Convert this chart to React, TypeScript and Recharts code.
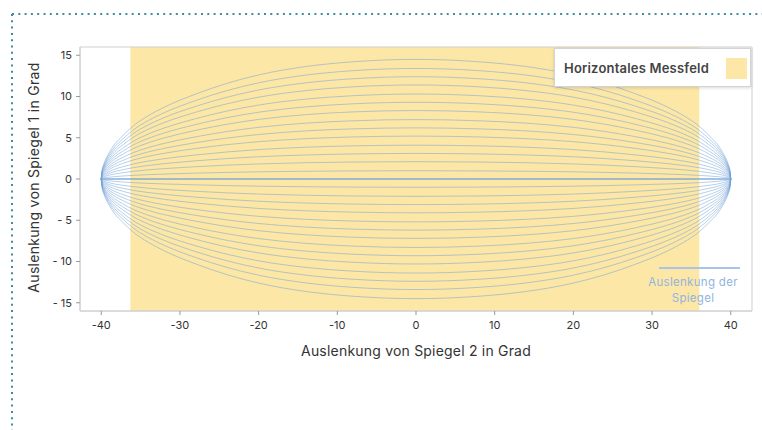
import React from 'react';
import { LineChart, Line, XAxis, YAxis, ReferenceArea } from 'recharts';

// Achsen
const X_TICKS = [-40, -30, -20, -10, 0, 10, 20, 30, 40];
const Y_TICKS = [-15, -10, -5, 0, 5, 10, 15];
const X_DOMAIN = [-42.7, 42.7];
const Y_DOMAIN = [-16, 16];

// Horizontales Messfeld (x-Bereich)
const FIELD_X = [-36.3, 36.0];

// Scheitelhöhen der Bahnen (bei x = 0)
const AMPLITUDES = [0, 1.0, 2.1, 3.1, 4.1, 5.2, 6.2, 7.2, 8.3, 9.3, 10.3, 11.4, 12.4, 13.4, 14.5];

// Form der äußersten Bahn: relative Höhe an den Stützstellen
const PROFILE_X = [-40, -39.9, -39.7, -39.4, -39, -38.3, -37.3, -36, -34, -32, -28, -24, -20, -14, -8, 0, 8, 14, 20, 24, 28, 32, 34, 36, 37.3, 38.3, 39, 39.4, 39.7, 39.9, 40];
const PROFILE_H = [0, 0.07, 0.12, 0.17, 0.22, 0.29, 0.36, 0.44, 0.53, 0.6, 0.71, 0.8, 0.87, 0.94, 0.98, 1, 0.98, 0.94, 0.87, 0.8, 0.71, 0.6, 0.53, 0.44, 0.36, 0.29, 0.22, 0.17, 0.12, 0.07, 0];

const FONT = 'Inter, "Open Sans", sans-serif';
const LINE_COLOR = '#6f9fd8';
const FIELD_COLOR = '#fce7a6';

const keys: { key: string; center: boolean }[] = [];
AMPLITUDES.forEach((a, k) => {
  keys.push({ key: `p${k}`, center: a === 0 });
  if (a > 0) keys.push({ key: `n${k}`, center: false });
});

const data = PROFILE_X.map((x, i) => {
  const row: Record<string, number> = { x };
  AMPLITUDES.forEach((a, k) => {
    row[`p${k}`] = a * PROFILE_H[i];
    if (a > 0) row[`n${k}`] = -a * PROFILE_H[i];
  });
  return row;
});

const fmtY = (v: number) => (v < 0 ? `- ${Math.abs(v)}` : `${v}`);

export default function App() {
  return (
    <div style={{ position: 'fixed', left: 0, top: 0, width: 762, height: 430, background: '#fff', overflow: 'hidden', fontFamily: FONT }}>
      <svg width={762} height={430} style={{ position: 'absolute', left: 0, top: 0 }}>
        <line x1={12} y1={14} x2={762} y2={14} stroke="#3f8c9e" strokeWidth={2} strokeDasharray="2 4.3" />
        <line x1={12} y1={14} x2={12} y2={430} stroke="#3f8c9e" strokeWidth={2} strokeDasharray="2 4.3" />
      </svg>

      <div style={{ position: 'absolute', left: 0, top: 0 }}>
        <LineChart width={762} height={430} data={data} margin={{ top: 47, right: 10, left: 40, bottom: 89 }}>
          <XAxis
            dataKey="x"
            type="number"
            domain={X_DOMAIN}
            ticks={X_TICKS}
            allowDataOverflow
            height={30}
            tick={{ fontSize: 11, fill: '#333', fontFamily: FONT }}
            tickLine={{ stroke: '#999' }}
            tickSize={4}
            tickMargin={6}
            axisLine={{ stroke: '#d0d0d0' }}
          />
          <YAxis
            type="number"
            domain={Y_DOMAIN}
            ticks={Y_TICKS}
            allowDataOverflow
            width={40}
            tickFormatter={fmtY}
            tick={{ fontSize: 11, fill: '#333', fontFamily: FONT }}
            tickLine={{ stroke: '#999' }}
            tickSize={4}
            tickMargin={4}
            axisLine={{ stroke: '#d0d0d0' }}
          />
          <ReferenceArea x1={FIELD_X[0]} x2={FIELD_X[1]} y1={Y_DOMAIN[0]} y2={Y_DOMAIN[1]} fill={FIELD_COLOR} fillOpacity={1} stroke="none" />
          <ReferenceArea x1={X_DOMAIN[0]} x2={X_DOMAIN[1]} y1={Y_DOMAIN[0]} y2={Y_DOMAIN[1]} fill="none" stroke="#cfcfcf" />
          {keys.map((k) => (
            <Line
              key={k.key}
              dataKey={k.key}
              type="monotone"
              stroke={LINE_COLOR}
              strokeOpacity={k.center ? 0.85 : 0.5}
              strokeWidth={k.center ? 1.6 : 1}
              dot={false}
              activeDot={false}
              isAnimationActive={false}
            />
          ))}
        </LineChart>
      </div>

      {/* Legende oben rechts */}
      <div style={{ position: 'absolute', left: 554, top: 48, width: 197, height: 39, background: '#fff', border: '1px solid #d4d4d4', boxShadow: '0 1px 3px rgba(0,0,0,0.15)', boxSizing: 'border-box' }}>
        <span style={{ position: 'absolute', left: 9, top: 11, fontSize: 13, fontWeight: 600, color: '#444', letterSpacing: 0.2 }}>Horizontales Messfeld</span>
        <span style={{ position: 'absolute', left: 171, top: 9, width: 21, height: 21, background: FIELD_COLOR }} />
      </div>

      {/* Legende Bahnen */}
      <div style={{ position: 'absolute', left: 659, top: 267, width: 81, height: 2, background: '#a9c4e6' }} />
      <div style={{ position: 'absolute', left: 638, top: 274, width: 110, textAlign: 'center', fontSize: 11.5, lineHeight: '16px', color: '#93b4df', letterSpacing: 0.3 }}>
        Auslenkung der
        <br />
        Spiegel
      </div>

      {/* Achsentitel */}
      <div style={{ position: 'absolute', left: 216, top: 342, width: 400, textAlign: 'center', fontSize: 14, color: '#333', letterSpacing: 0.2 }}>
        Auslenkung von Spiegel 2 in Grad
      </div>
      <div style={{ position: 'absolute', left: 33, top: 179, width: 0, height: 0 }}>
        <div style={{ position: 'absolute', left: -150, top: -10, width: 300, textAlign: 'center', fontSize: 14, color: '#333', letterSpacing: 0.3, transform: 'rotate(-90deg)', whiteSpace: 'nowrap' }}>
          Auslenkung von Spiegel 1 in Grad
        </div>
      </div>
    </div>
  );
}
